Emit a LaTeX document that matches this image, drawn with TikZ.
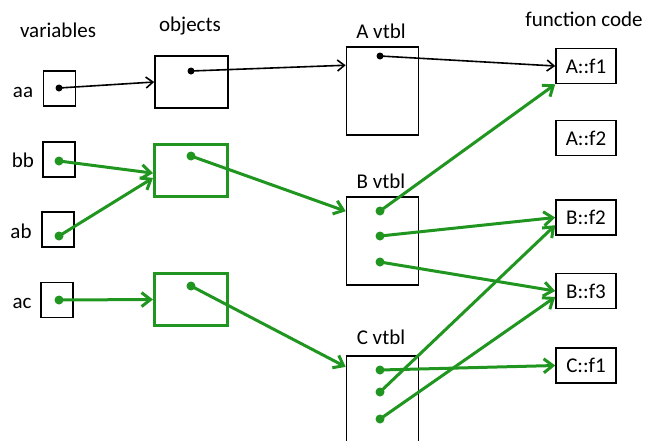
\documentclass[tikz,border=0pt]{standalone}
\usepackage{fontspec}
\setmainfont{Carlito}
\usetikzlibrary{arrows.meta}
\definecolor{ptrgreen}{RGB}{32,150,32}
\tikzset{
    txt/.style={font=\fontsize{21}{25}\selectfont, inner sep=0pt, anchor=base},
    box/.style={draw, line width=1.6pt, inner sep=0pt, font=\fontsize{21}{25}\selectfont},
    varbox/.style={box, minimum width=32pt, minimum height=35pt},
    objbox/.style={box, minimum width=73pt, minimum height=52pt},
    gbox/.style={draw=ptrgreen, line width=3pt},
    vtblbox/.style={box, minimum width=72pt, minimum height=88pt},
    fnbox/.style={box, minimum width=60pt, minimum height=35pt},
    ptr/.style={line width=1.6pt, -{Straight Barb[length=7pt,width=11pt]}},
    gptr/.style={ptrgreen, line width=3pt, -{Straight Barb[length=9pt,width=14pt]}}
}
\begin{document}
\begin{tikzpicture}[x=1pt,y=-1pt]
\clip (0,0) rectangle (647,440);
\node[txt] (varhead) at (58,37) {variables};
\node[txt] (objhead) at (190,31) {objects};
\node[txt] (fnhead) at (584,26) {function code};
\foreach \v/\x/\y/\d/\lx/\ly in {aa/59.5/88.5/88/23/97, bb/59/159.5/161/23/167, ab/58/229.5/236/21/238, ac/57/300/300/22/308}{
    \node[varbox] (\v) at (\x,\y) {};
    \node[txt] (\v lbl) at (\lx,\ly) {\v};
    \coordinate (\v dot) at (59,\d);
}
\node[objbox] (aaobj) at (191.5,82) {};
\node[objbox, gbox] (bbobj) at (191,170.5) {};
\node[objbox, gbox] (acobj) at (191,299.5) {};
\coordinate (aaobjdot) at (191,71);
\coordinate (bbobjdot) at (191,156);
\coordinate (acobjdot) at (191,286);
\foreach \c/\y/\ly in {A/91/38, B/241/188, C/400/344}{
    \node[vtblbox] (\c vtbl) at (382.5,\y) {};
    \node[txt] (\c lbl) at (381,\ly) {\c{} vtbl};
}
\foreach \f/\y/\t in {af1/66/A::f1, af2/138/A::f2, bf2/217.5/B::f2, bf3/291/B::f3, cf1/365.5/C::f1}{
    \node[fnbox] (\f) at (586,\y) {\t};
}
\coordinate (adot) at (380,56);
\coordinate (bdot1) at (380,211);
\coordinate (bdot2) at (380,236);
\coordinate (bdot3) at (380,262);
\coordinate (cdot1) at (380,370);
\coordinate (cdot2) at (380,392);
\coordinate (cdot3) at (380,419);
\draw[ptr] (aadot) -- (aaobj.west);
\draw[gptr] (bbdot) -- (bbobj.184);
\draw[gptr] (abdot) -- (bbobj.191);
\draw[gptr] (acdot) -- (acobj.west);
\draw[ptr] (aaobjdot) -- (Avtbl.145);
\draw[gptr] (bbobjdot) -- (Bvtbl.141);
\draw[gptr] (acobjdot) -- (Cvtbl.138);
\draw[ptr] (adot) -- (af1.west);
\draw[gptr] (bdot1) -- (af1.south west);
\draw[gptr] (bdot2) -- (bf2.west);
\draw[gptr] (bdot3) -- (bf3.west);
\draw[gptr] (cdot1) -- (cf1.west);
\draw[gptr] (cdot2) -- (bf2.194);
\draw[gptr] (cdot3) -- (bf3.191);
\foreach \p in {aadot, aaobjdot, adot}{
    \fill (\p) circle (3.5pt);
}
\foreach \p in {bbdot, abdot, acdot, bbobjdot, acobjdot, bdot1, bdot2, bdot3, cdot1, cdot2, cdot3}{
    \fill[ptrgreen] (\p) circle (4.5pt);
}
\end{tikzpicture}
\end{document}
